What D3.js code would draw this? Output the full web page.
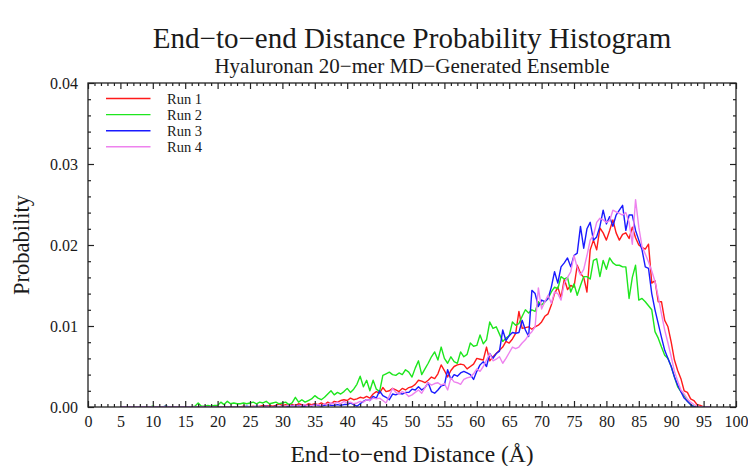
<!DOCTYPE html>
<html>
<head>
<meta charset="utf-8">
<script src="https://cdn.jsdelivr.net/npm/d3@7"></script>
<style>
  body { margin: 0; background: #fff; }
  svg { display: block; }
  text { font-family: "Liberation Serif", "DejaVu Serif", serif; fill: #1a1a1a; }
</style>
</head>
<body>
<svg id="chart" width="748" height="466"></svg>
<script>
// Histogram bins: first bin at 5 Å, 0.5 Å wide
const binStart = 5;
const binWidth = 0.5;

// Probability per bin, 5.0 – 96.0 Å (ten bins per row = 5 Å)
const run1 = [
  0,0,0,0,0,0,0,0,0,0,
  0,0,0,0,0,0,0,0,0,0,
  0,0,0,0,0,0,0,0,0,0,
  0,0,0,0,0,0,0,0,0.0001,0,
  0,0.0001,0,0.0001,0.0002,0.0001,0.0002,0.0001,0.0002,0.0004,
  0.0002,0.0003,0.0002,0.0003,0.0002,0.0004,0.0003,0.0002,0.0004,0.0003,
  0.0004,0.0003,0.0005,0.0003,0.0006,0.0004,0.0007,0.0006,0.0008,0.0009,
  0.0008,0.0011,0.0009,0.0010,0.0012,0.0011,0.0013,0.0011,0.0016,0.0019,
  0.0017,0.0024,0.0019,0.0020,0.0023,0.0021,0.0019,0.0023,0.0021,0.0024,
  0.0025,0.0028,0.0033,0.0032,0.0030,0.0033,0.0037,0.0035,0.0041,0.0052,
  0.0045,0.0037,0.0045,0.0050,0.0052,0.0053,0.0052,0.0047,0.0050,0.0053,
  0.0060,0.0059,0.0058,0.0074,0.0057,0.0062,0.0066,0.0070,0.0074,0.0081,
  0.0079,0.0084,0.0091,0.0118,0.0097,0.0098,0.0099,0.0096,0.0099,0.0101,
  0.0105,0.0112,0.0115,0.0126,0.0140,0.0148,0.0135,0.0158,0.0145,0.0150,
  0.0148,0.0175,0.0165,0.0160,0.0142,0.0194,0.0206,0.0194,0.0221,0.0215,
  0.0206,0.0218,0.0231,0.0215,0.0206,0.0213,0.0215,0.0208,0.0222,0.0209,
  0.0200,0.0197,0.0195,0.0201,0.0153,0.0156,0.0130,0.0130,0.0107,0.0099,
  0.0080,0.0058,0.0045,0.0035,0.0020,0.0018,0.0010,0.0008,0.0003,0.0002,
  0,0,0
];

const run2 = [
  0,0,0,0,0,0,0,0,0,0,
  0.0001,0,0,0,0.0001,0,0,0,0,0,
  0,0,0,0.0001,0.0005,0.0001,0.0001,0.0002,0.0001,0.0002,
  0.0002,0.0006,0.0003,0.0007,0.0004,0.0005,0.0004,0.0004,0.0005,0.0004,
  0.0005,0.0006,0.0004,0.0006,0.0005,0.0007,0.0004,0.0005,0.0006,0.0004,
  0.0005,0.0006,0.0003,0.0005,0.0012,0.0006,0.0009,0.0006,0.0008,0.0010,
  0.0014,0.0011,0.0009,0.0012,0.0016,0.0020,0.0015,0.0018,0.0016,0.0019,
  0.0023,0.0018,0.0022,0.0028,0.0038,0.0025,0.0033,0.0020,0.0033,0.0022,
  0.0019,0.0039,0.0041,0.0043,0.0040,0.0039,0.0042,0.0040,0.0046,0.0043,
  0.0037,0.0048,0.0057,0.0040,0.0047,0.0054,0.0062,0.0068,0.0058,0.0074,
  0.0060,0.0054,0.0062,0.0056,0.0054,0.0068,0.0062,0.0065,0.0079,0.0075,
  0.0076,0.0089,0.0078,0.0083,0.0105,0.0097,0.0099,0.0090,0.0081,0.0085,
  0.0088,0.0105,0.0101,0.0103,0.0112,0.0120,0.0116,0.0120,0.0118,0.0130,
  0.0126,0.0130,0.0134,0.0142,0.0148,0.0146,0.0161,0.0158,0.0160,0.0142,
  0.0152,0.0138,0.0150,0.0161,0.0161,0.0158,0.0181,0.0183,0.0161,0.0181,
  0.0170,0.0184,0.0178,0.0175,0.0175,0.0173,0.0173,0.0134,0.0160,0.0175,
  0.0132,0.0134,0.0130,0.0125,0.0120,0.0093,0.0085,0.0074,0.0064,0.0060,
  0.0050,0.0037,0.0025,0.0019,0.0014,0.0007,0.0003,0.0001,0,0,
  0,0,0
];

const run3 = [
  0,0,0,0,0,0,0,0,0,0,
  0,0,0,0,0.0001,0,0,0,0,0,
  0,0,0,0,0,0,0,0,0,0,
  0,0,0,0,0,0,0,0,0,0.0001,
  0,0,0.0001,0,0,0.0001,0,0,0.0001,0,
  0.0001,0,0.0001,0.0002,0.0001,0.0002,0.0001,0.0001,0.0002,0.0001,
  0.0003,0.0002,0.0001,0.0002,0.0003,0.0002,0.0002,0.0003,0.0002,0.0003,
  0.0003,0.0005,0.0003,0.0001,0.0004,0.0007,0.0009,0.0008,0.0013,0.0011,
  0.0020,0.0014,0.0012,0.0009,0.0016,0.0015,0.0017,0.0016,0.0018,0.0018,
  0.0022,0.0021,0.0025,0.0021,0.0024,0.0030,0.0019,0.0017,0.0021,0.0026,
  0.0027,0.0046,0.0034,0.0040,0.0038,0.0042,0.0044,0.0042,0.0040,0.0034,
  0.0044,0.0052,0.0056,0.0050,0.0066,0.0060,0.0066,0.0069,0.0095,0.0082,
  0.0088,0.0092,0.0091,0.0092,0.0107,0.0095,0.0087,0.0144,0.0140,0.0124,
  0.0132,0.0130,0.0134,0.0148,0.0167,0.0153,0.0173,0.0178,0.0184,0.0173,
  0.0187,0.0190,0.0223,0.0196,0.0220,0.0228,0.0206,0.0210,0.0223,0.0243,
  0.0226,0.0235,0.0223,0.0237,0.0243,0.0249,0.0218,0.0237,0.0237,0.0218,
  0.0206,0.0194,0.0173,0.0171,0.0140,0.0120,0.0103,0.0086,0.0070,0.0060,
  0.0050,0.0037,0.0027,0.0019,0.0011,0.0007,0.0003,0,0,0,
  0,0,0
];

const run4 = [
  0,0,0,0,0,0,0,0,0,0,
  0,0,0,0,0,0,0,0,0,0,
  0,0,0,0,0,0,0,0,0,0,
  0,0,0,0,0,0,0,0,0,0,
  0,0,0,0.0001,0,0,0.0001,0,0,0.0001,
  0,0.0001,0.0002,0.0001,0.0002,0.0001,0.0002,0.0003,0.0001,0.0002,
  0.0002,0.0003,0.0002,0.0004,0.0003,0.0005,0.0004,0.0006,0.0004,0.0007,
  0.0005,0.0006,0.0004,0.0005,0.0007,0.0006,0.0009,0.0008,0.0011,0.0010,
  0.0011,0.0008,0.0005,0.0014,0.0023,0.0018,0.0016,0.0019,0.0017,0.0013,
  0.0015,0.0018,0.0021,0.0017,0.0024,0.0030,0.0027,0.0029,0.0030,0.0027,
  0.0029,0.0021,0.0036,0.0031,0.0030,0.0028,0.0034,0.0036,0.0037,0.0041,
  0.0047,0.0044,0.0050,0.0058,0.0066,0.0057,0.0059,0.0062,0.0054,0.0060,
  0.0067,0.0074,0.0072,0.0074,0.0079,0.0083,0.0089,0.0093,0.0099,0.0147,
  0.0121,0.0130,0.0138,0.0128,0.0142,0.0140,0.0132,0.0153,0.0160,0.0167,
  0.0187,0.0172,0.0163,0.0170,0.0187,0.0206,0.0212,0.0228,0.0233,0.0231,
  0.0228,0.0230,0.0243,0.0241,0.0239,0.0237,0.0240,0.0228,0.0201,0.0256,
  0.0222,0.0198,0.0189,0.0179,0.0168,0.0155,0.0136,0.0115,0.0095,0.0079,
  0.0062,0.0044,0.0032,0.0021,0.0016,0.0010,0.0006,0.0003,0.0001,0,
  0,0,0
];

const seriesNames = ["Run 1", "Run 2", "Run 3", "Run 4"];
const seriesColors = ["#ff1a1a", "#1ee61e", "#1a1aff", "#ee82ee"];
const xTickValues = d3.range(0, 101, 5);
const yTickValues = [0, 0.01, 0.02, 0.03, 0.04];

const titleText = "End\u2212to\u2212end Distance Probability Histogram";
const subtitleText = "Hyaluronan 20\u2212mer MD\u2212Generated Ensemble";
const xLabelText = "End\u2212to\u2212end Distance (\u00C5)";
const yLabelText = "Probability";

const svg = d3.select("#chart");
const plot = { left: 88, right: 736, top: 83, bottom: 407 };

const x = d3.scaleLinear().domain([0, 100]).range([plot.left, plot.right]);
const y = d3.scaleLinear().domain([0, 0.04]).range([plot.bottom, plot.top]);

const runs = [run1, run2, run3, run4].map((vals, i) => ({
  name: seriesNames[i],
  color: seriesColors[i],
  points: vals.map((p, j) => ({ d: binStart + j * binWidth, p }))
}));

// Clip lines to the frame
svg.append("defs").append("clipPath").attr("id", "plotClip")
  .append("rect")
  .attr("x", plot.left).attr("y", plot.top)
  .attr("width", plot.right - plot.left).attr("height", plot.bottom - plot.top);

const line = d3.line().x(d => x(d.d)).y(d => y(d.p));

svg.append("g").attr("clip-path", "url(#plotClip)")
  .selectAll("path")
  .data(runs)
  .join("path")
  .attr("d", d => line(d.points))
  .attr("fill", "none")
  .attr("stroke", d => d.color)
  .attr("stroke-width", 1.4)
  .attr("stroke-linejoin", "round");

// Axes with inward ticks on all four sides
const xMinor = d3.range(0, 101, 1).filter(v => v % 5 !== 0);
const yMinor = d3.range(0, 0.0401, 0.002).filter((v, i) => i % 5 !== 0);
const tickColor = "#222";

function styleAxis(g) {
  g.select(".domain").remove();
  g.selectAll(".tick line").attr("stroke", tickColor).attr("stroke-width", 1.2);
  g.selectAll(".tick text")
    .style("font-family", "'Liberation Serif', serif")
    .style("font-size", "16px")
    .attr("fill", "#1a1a1a");
}

// bottom
svg.append("g").attr("transform", `translate(0,${plot.bottom})`)
  .call(d3.axisBottom(x).tickValues(xTickValues).tickFormat(d3.format("d")).tickSize(-6).tickPadding(9))
  .call(styleAxis);
svg.append("g").attr("transform", `translate(0,${plot.bottom})`)
  .call(d3.axisBottom(x).tickValues(xMinor).tickFormat("").tickSize(-3))
  .call(styleAxis);
// top
svg.append("g").attr("transform", `translate(0,${plot.top})`)
  .call(d3.axisTop(x).tickValues(xTickValues).tickFormat("").tickSize(-6))
  .call(styleAxis);
svg.append("g").attr("transform", `translate(0,${plot.top})`)
  .call(d3.axisTop(x).tickValues(xMinor).tickFormat("").tickSize(-3))
  .call(styleAxis);
// left
svg.append("g").attr("transform", `translate(${plot.left},0)`)
  .call(d3.axisLeft(y).tickValues(yTickValues).tickFormat(d3.format(".2f")).tickSize(-6).tickPadding(10))
  .call(styleAxis);
svg.append("g").attr("transform", `translate(${plot.left},0)`)
  .call(d3.axisLeft(y).tickValues(yMinor).tickFormat("").tickSize(-3))
  .call(styleAxis);
// right
svg.append("g").attr("transform", `translate(${plot.right},0)`)
  .call(d3.axisRight(y).tickValues(yTickValues).tickFormat("").tickSize(-6))
  .call(styleAxis);
svg.append("g").attr("transform", `translate(${plot.right},0)`)
  .call(d3.axisRight(y).tickValues(yMinor).tickFormat("").tickSize(-3))
  .call(styleAxis);

// frame
svg.append("rect")
  .attr("x", plot.left).attr("y", plot.top)
  .attr("width", plot.right - plot.left).attr("height", plot.bottom - plot.top)
  .attr("fill", "none").attr("stroke", tickColor).attr("stroke-width", 1.3);

// Legend
const legend = svg.append("g");
runs.forEach((r, i) => {
  const ly = 98.5 + i * 16.1;
  legend.append("line")
    .attr("x1", 106).attr("x2", 150.5).attr("y1", ly).attr("y2", ly)
    .attr("stroke", r.color).attr("stroke-width", 1.4);
  legend.append("text")
    .attr("x", 167).attr("y", ly).attr("dy", "0.35em")
    .style("font-size", "14.5px")
    .text(r.name);
});

// Titles
const cx = (plot.left + plot.right) / 2;
svg.append("text").attr("x", cx).attr("y", 47.5).attr("text-anchor", "middle")
  .style("font-size", "29px").text(titleText);
svg.append("text").attr("x", cx).attr("y", 73).attr("text-anchor", "middle")
  .style("font-size", "21px").text(subtitleText);

// Axis labels
svg.append("text").attr("x", cx).attr("y", 462).attr("text-anchor", "middle")
  .style("font-size", "23.5px").text(xLabelText);
svg.append("text")
  .attr("transform", `translate(29,${(plot.top + plot.bottom) / 2}) rotate(-90)`)
  .attr("text-anchor", "middle")
  .style("font-size", "22.5px").text(yLabelText);
</script>
</body>
</html>
